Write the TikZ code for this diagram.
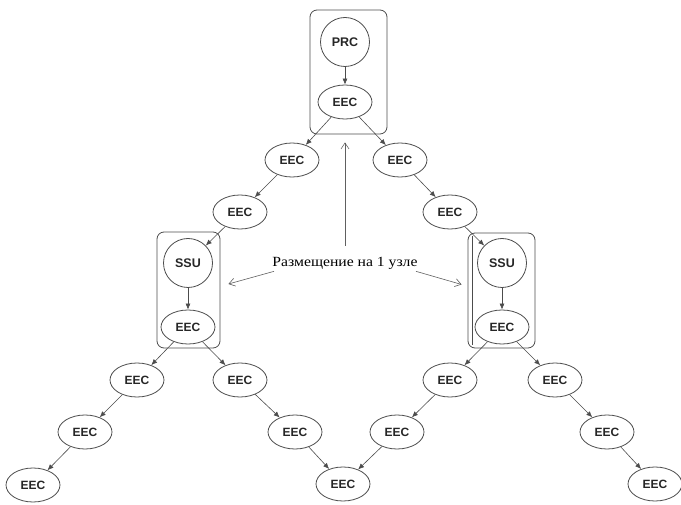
\documentclass[tikz,border=0pt]{standalone}
\usepackage{fontspec}
\setmainfont{Liberation Serif}
\setsansfont{Liberation Sans}
\usetikzlibrary{arrows.meta,shapes.geometric}

\begin{document}
\begin{tikzpicture}[x=1pt,y=-1pt,
  eec/.style={ellipse,draw=gray!60!black,line width=0.8pt,minimum width=54pt,minimum height=34pt,inner sep=0pt,font=\sffamily\bfseries\fontsize{12}{12}\selectfont,text=black!85},
  unit/.style={circle,draw=gray!60!black,line width=0.8pt,minimum size=49pt,inner sep=0pt,font=\sffamily\bfseries\fontsize{12.5}{12.5}\selectfont,text=black!85},
  grp/.style={draw=gray!60!black,line width=0.8pt,rounded corners=7pt,inner sep=0pt},
  link/.style={draw=gray!60!black,line width=0.6pt,-{Latex[length=6pt,width=5pt]}},
  hint/.style={draw=gray!75!black,line width=0.6pt,-{Straight Barb[length=6pt,width=8pt]}}]
\useasboundingbox (0,0) rectangle (681,505);
% groups
\node[grp,minimum width=77pt,minimum height=124pt] (topbox) at (348.5,72) {};
\node[grp,minimum width=63pt,minimum height=116pt] (lbox) at (188.5,290) {};
\node[grp,minimum width=67pt,minimum height=115pt] (rbox) at (501.5,290.5) {};
\draw[gray!60!black,line width=0.8pt] (472,236) -- (472,345);
% nodes
\node[unit] (prc) at (345,42) {PRC};
\node[eec] (e0) at (345,102) {EEC};
\node[eec] (l1) at (292,160) {EEC};
\node[eec] (r1) at (400,160) {EEC};
\node[eec] (l2) at (240,212) {EEC};
\node[eec] (r2) at (450,212) {EEC};
\node[unit] (ssul) at (188,263) {SSU};
\node[unit] (ssur) at (502,263) {SSU};
\node[eec] (el) at (188,327) {EEC};
\node[eec] (er) at (502,327) {EEC};
\node[eec] (a1) at (137,380) {EEC};
\node[eec] (a2) at (240,380) {EEC};
\node[eec] (a3) at (450,380) {EEC};
\node[eec] (a4) at (555,380) {EEC};
\node[eec] (b1) at (85,432) {EEC};
\node[eec] (b2) at (295,432) {EEC};
\node[eec] (b3) at (397,432) {EEC};
\node[eec] (b4) at (607,432) {EEC};
\node[eec] (c1) at (33,485) {EEC};
\node[eec] (c2) at (343,484) {EEC};
\node[eec] (c3) at (655,484) {EEC};
% links
\draw[link] (prc) -- (e0);
\draw[link] (e0) -- (l1);
\draw[link] (e0) -- (r1);
\draw[link] (l1) -- (l2);
\draw[link] (r1) -- (r2);
\draw[link] (l2) -- (ssul);
\draw[link] (r2) -- (ssur);
\draw[link] (ssul) -- (el);
\draw[link] (ssur) -- (er);
\draw[link] (el) -- (a1);
\draw[link] (el) -- (a2);
\draw[link] (er) -- (a3);
\draw[link] (er) -- (a4);
\draw[link] (a1) -- (b1);
\draw[link] (b1) -- (c1);
\draw[link] (a2) -- (b2);
\draw[link] (b2) -- (c2);
\draw[link] (a3) -- (b3);
\draw[link] (b3) -- (c2);
\draw[link] (a4) -- (b4);
\draw[link] (b4) -- (c3);
% note
\node[font=\fontsize{14}{14}\selectfont,inner sep=2pt,xscale=1.12] (note) at (345,263) {Размещение на 1 узле};
\draw[hint,shorten <=9pt,shorten >=8pt] (note.north) -- (note.north |- topbox.south);
\draw[hint] ([xshift=4pt]note.south west) -- ([xshift=8pt,yshift=6pt]lbox.east);
\draw[hint] ([xshift=-4pt]note.south east) -- ([xshift=-6pt,yshift=6pt]rbox.west);
\end{tikzpicture}
\end{document}
